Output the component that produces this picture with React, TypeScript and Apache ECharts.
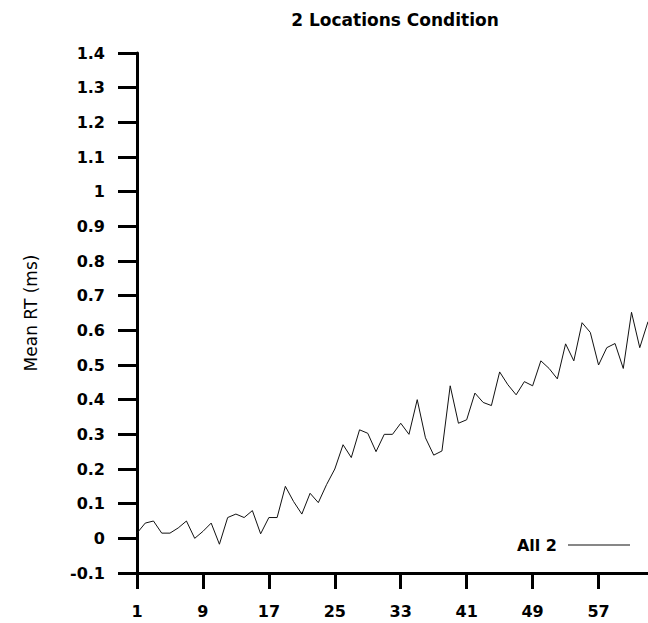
import React, { useEffect, useRef } from "react";
import * as echarts from "echarts";

const trials: string[] = Array.from({ length: 63 }, (_, i) => String(i + 1));
const all2: number[] = [
  0.015, 0.044, 0.05, 0.015, 0.015, 0.03, 0.05, 0.0, 0.02, 0.044,
  -0.017, 0.06, 0.07, 0.06, 0.08, 0.013, 0.06, 0.06, 0.15, 0.106,
  0.07, 0.13, 0.103, 0.155, 0.2, 0.27, 0.233, 0.313, 0.303, 0.25,
  0.3, 0.3, 0.332, 0.3, 0.4, 0.29, 0.24, 0.252, 0.44, 0.332,
  0.342, 0.419, 0.392, 0.383, 0.48, 0.443, 0.414, 0.452, 0.44, 0.512,
  0.49, 0.46, 0.561, 0.512, 0.622, 0.594, 0.5, 0.55, 0.562, 0.49,
  0.652, 0.55, 0.625,
];
const titleText = "2 Locations Condition";
const yName = "Mean RT (ms)";
const seriesName = "All 2";

const FONT = "DejaVu Sans";

export default function App() {
  const ref = useRef<HTMLDivElement>(null);
  useEffect(() => {
    if (!ref.current) return;
    const chart = echarts.init(ref.current, undefined, { renderer: "svg" });
    chart.setOption({
      animation: false,
      backgroundColor: "#ffffff",
      title: {
        text: titleText,
        left: 390,
        textAlign: "center",
        top: 6,
        textStyle: { fontFamily: FONT, fontSize: 17, fontWeight: "bold", color: "#000" },
      },
      legend: {
        data: [{ name: seriesName, icon: "rect" }],
        right: 13,
        top: 532,
        align: "right",
        itemWidth: 62,
        itemHeight: 1,
        itemStyle: { color: "#111", borderWidth: 0 },
        textStyle: { fontFamily: FONT, fontSize: 16, fontWeight: "bold", color: "#000", padding: [0, 6, 0, 0] },
      },
      grid: { left: 137, right: 0, top: 53, bottom: 50, containLabel: false },
      xAxis: {
        type: "category",
        data: trials,
        boundaryGap: false,
        axisLine: { onZero: false, lineStyle: { color: "#000", width: 3 } },
        axisTick: { interval: 7, length: 16, lineStyle: { color: "#000", width: 3 } },
        axisLabel: { interval: 7, margin: 30, fontFamily: FONT, fontSize: 16, fontWeight: "bold", color: "#000" },
        splitLine: { show: false },
      },
      yAxis: {
        type: "value",
        min: -0.1,
        max: 1.4,
        interval: 0.1,
        name: yName,
        nameLocation: "middle",
        nameGap: 98,
        nameTextStyle: { fontFamily: FONT, fontSize: 17, color: "#000" },
        axisLine: { show: true, onZero: false, lineStyle: { color: "#000", width: 3 } },
        axisTick: { show: true, length: 19, lineStyle: { color: "#000", width: 3 } },
        axisLabel: {
          margin: 32,
          fontFamily: FONT,
          fontSize: 16,
          fontWeight: "bold",
          color: "#000",
          formatter: (v: number) => String(+v.toFixed(1)),
        },
        splitLine: { show: false },
      },
      series: [
        {
          name: seriesName,
          type: "line",
          data: all2,
          symbol: "none",
          lineStyle: { color: "#111", width: 1 },
          itemStyle: { color: "#111" },
        },
      ],
    });
    return () => chart.dispose();
  }, []);
  return <div ref={ref} style={{ width: 648, height: 623, position: "absolute", left: 0, top: 0 }} />;
}
